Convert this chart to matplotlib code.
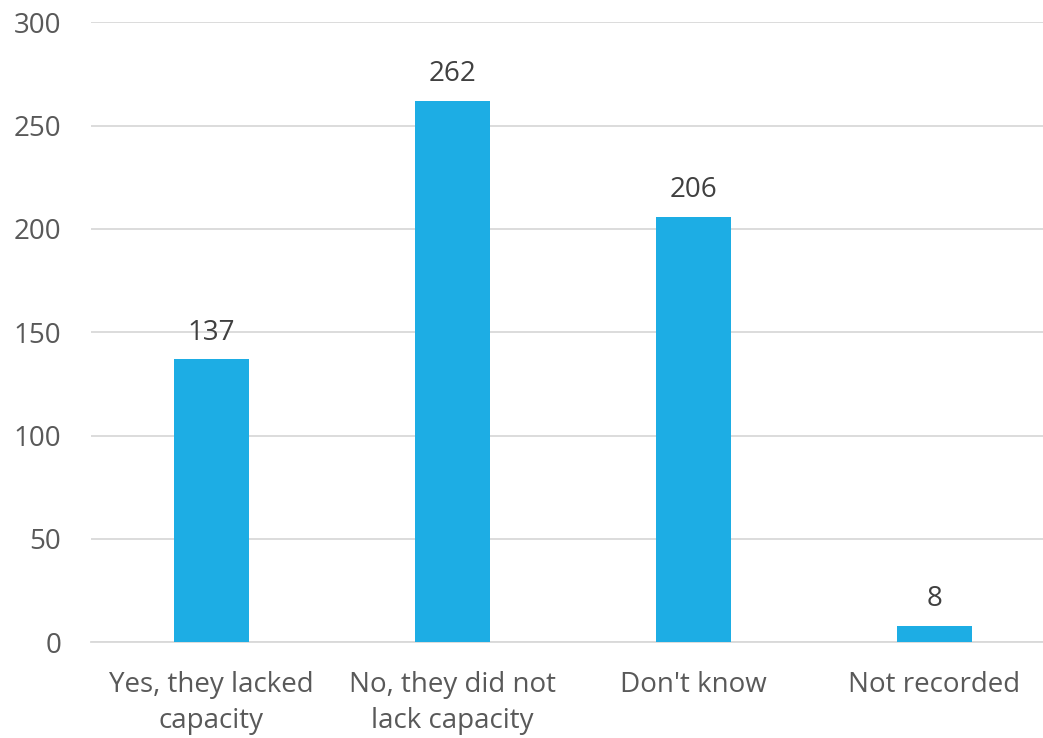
import matplotlib
matplotlib.use("Agg")
import matplotlib.pyplot as plt

categories = ["Yes, they lacked\ncapacity", "No, they did not\nlack capacity",
              "Don't know", "Not recorded"]
counts = [137, 262, 206, 8]
yticks = [0, 50, 100, 150, 200, 250, 300]

plt.rcParams['font.family'] = ['Open Sans', 'DejaVu Sans']

fig = plt.figure(figsize=(10.43, 7.38), dpi=100)
ax = fig.add_axes([91 / 1043, 95.7 / 738, 952 / 1043, 620 / 738])

x = list(range(len(categories)))
bars = ax.bar(x, counts, width=0.31, color="#1DADE4", zorder=3)

for b, v in zip(bars, counts):
    ax.annotate(str(v), (b.get_x() + b.get_width() / 2, v),
                xytext=(0, 9), textcoords="offset points",
                ha="center", va="bottom", fontsize=20, color="#404040")

ax.set_xlim(-0.5, -0.5 + 952 / 241)
ax.set_ylim(0, 300)
ax.set_yticks(yticks)
ax.set_xticks(x)
ax.set_xticklabels(categories, fontsize=20, color="#595959", linespacing=1.35)
ax.tick_params(axis="y", labelsize=20, labelcolor="#595959", length=0, pad=21.5)
ax.tick_params(axis="x", length=0, pad=21)
ax.grid(axis="y", color="#D9D9D9", linewidth=1.3, zorder=0)
for s in ["top", "right", "left"]:
    ax.spines[s].set_visible(False)
ax.spines["bottom"].set_color("#D9D9D9")
ax.spines["bottom"].set_linewidth(1.3)

fig.savefig("out.png", dpi=100)
